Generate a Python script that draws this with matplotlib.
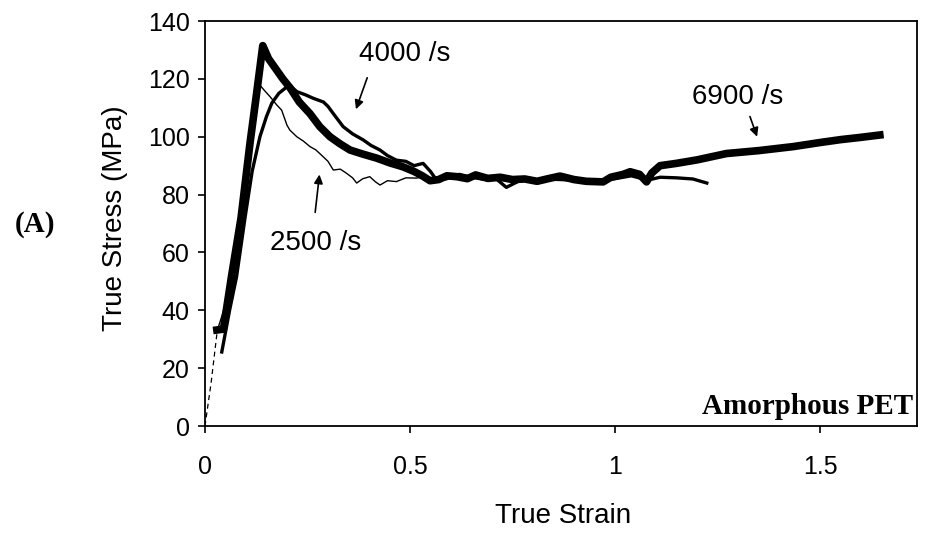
import matplotlib
matplotlib.use("Agg")
import matplotlib.pyplot as plt

# ---- data ----
strain_init = [0.0, 0.015, 0.03]
stress_init = [0.0, 15.0, 33.0]

strain_6900 = [0.029, 0.045, 0.065, 0.088, 0.11, 0.125, 0.141, 0.155, 0.175, 0.19, 0.207,
               0.23, 0.256, 0.28, 0.305, 0.33, 0.354, 0.385, 0.419, 0.45, 0.483, 0.51,
               0.53, 0.549, 0.57, 0.59, 0.614, 0.64, 0.66, 0.69, 0.72, 0.75, 0.78, 0.81,
               0.84, 0.866, 0.9, 0.93, 0.971, 0.99, 1.02, 1.037, 1.06, 1.077, 1.09, 1.11,
               1.15, 1.2, 1.272, 1.35, 1.435, 1.5, 1.55, 1.6, 1.646]
stress_6900 = [33.2, 33.5, 52.0, 72.0, 98.0, 114.0, 131.5, 127.0, 123.0, 120.0, 117.0,
               112.0, 108.0, 103.5, 100.0, 97.5, 95.4, 94.0, 92.6, 91.0, 89.6, 88.0,
               86.5, 84.8, 85.2, 86.5, 86.2, 85.5, 86.8, 85.6, 86.0, 85.2, 85.4, 84.6,
               85.6, 86.4, 85.2, 84.6, 84.4, 86.0, 87.0, 87.9, 87.0, 84.4, 87.5, 90.0,
               90.8, 92.0, 94.2, 95.2, 96.6, 98.0, 99.0, 99.8, 100.6]

strain_4000 = [0.041, 0.06, 0.077, 0.098, 0.115, 0.134, 0.15, 0.163, 0.18, 0.195, 0.205,
               0.224, 0.245, 0.264, 0.289, 0.3, 0.313, 0.337, 0.36, 0.386, 0.405, 0.427,
               0.445, 0.467, 0.49, 0.51, 0.532, 0.55, 0.565, 0.59, 0.62, 0.65, 0.68, 0.71,
               0.735, 0.77, 0.8, 0.85, 0.9, 0.95, 1.0, 1.04, 1.08, 1.11, 1.15, 1.19, 1.224]
stress_4000 = [25.6, 40.0, 51.6, 72.3, 88.0, 100.0, 107.0, 111.6, 115.0, 116.7, 118.0,
               115.6, 114.5, 113.3, 112.0, 110.5, 108.0, 103.5, 101.0, 98.9, 97.0, 95.4,
               93.5, 91.9, 91.5, 90.0, 90.8, 88.0, 85.0, 85.5, 87.0, 86.0, 85.3, 85.5,
               82.5, 85.0, 84.8, 85.3, 85.0, 84.3, 85.5, 86.5, 85.0, 86.0, 85.8, 85.4, 84.0]

strain_2500 = [0.03, 0.05, 0.07, 0.09, 0.105, 0.118, 0.13, 0.145, 0.159, 0.175, 0.187,
               0.2, 0.207, 0.224, 0.24, 0.256, 0.27, 0.289, 0.3, 0.313, 0.33, 0.345,
               0.36, 0.37, 0.385, 0.402, 0.415, 0.427, 0.445, 0.467, 0.49, 0.516, 0.532]
stress_2500 = [33.0, 42.0, 60.0, 80.0, 96.0, 110.0, 118.5, 116.0, 113.8, 111.0, 109.2,
               104.0, 102.3, 100.0, 98.5, 96.6, 95.5, 93.0, 91.5, 88.5, 88.8, 87.4,
               85.8, 84.0, 85.5, 86.2, 84.5, 83.3, 84.8, 84.5, 85.8, 85.7, 86.2]

x_ticks = [0, 0.5, 1, 1.5]
x_tick_labels = ["0", "0.5", "1", "1.5"]
y_ticks = [0, 20, 40, 60, 80, 100, 120, 140]

fig = plt.figure(figsize=(9.25, 5.34), dpi=100)
ax = fig.add_axes([0.2216, 0.2022, 0.7697, 0.7584])

ax.plot(strain_init, stress_init, color="black", lw=0.9, ls=(0, (4, 3)))
ax.plot(strain_2500, stress_2500, color="black", lw=1.0)
ax.plot(strain_4000, stress_4000, color="black", lw=2.4)
ax.plot(strain_6900, stress_6900, color="black", lw=5.5, solid_joinstyle="round")

ax.set_xlim(0, 1.7366)
ax.set_ylim(0, 140)
ax.set_xticks(x_ticks)
ax.set_xticklabels(x_tick_labels)
ax.set_yticks(y_ticks)
for s in ax.spines.values():
    s.set_linewidth(1.3)
ax.tick_params(axis="both", direction="out", length=5, width=1.2, labelsize=18)
ax.tick_params(axis="x", pad=16)
ax.tick_params(axis="y", pad=6)
for lab in ax.get_xticklabels() + ax.get_yticklabels():
    lab.set_fontfamily("Liberation Sans")

arrow = dict(arrowstyle="-|>", color="black", lw=1.2, mutation_scale=13)
ax.annotate("", xy=(0.366, 108.6), xytext=(0.398, 121.3), arrowprops=arrow)
ax.annotate("", xy=(0.28, 87.9), xytext=(0.268, 72.9), arrowprops=arrow)
ax.annotate("", xy=(1.349, 99.1), xytext=(1.327, 107.9), arrowprops=arrow)

tkw = dict(fontsize=20, family="Liberation Sans", ha="center", va="center")
ax.text(0.488, 128.6, "4000 /s", **tkw)
ax.text(0.270, 63.1, "2500 /s", **tkw)
ax.text(1.298, 113.8, "6900 /s", **tkw)

ax.text(1.727, 6.6, "Amorphous PET", fontsize=21, family="Liberation Serif",
        fontweight="bold", ha="right", va="center")

fig.text(0.124, 0.592, "True Stress (MPa)", rotation=90, fontsize=20,
         family="Liberation Sans", ha="center", va="center")
fig.text(0.609, 0.034, "True Strain", fontsize=20, family="Liberation Sans",
         ha="center", va="center")
fig.text(0.038, 0.579, "(A)", fontsize=21, family="Liberation Serif",
         fontweight="bold", ha="center", va="center")

fig.savefig("out.png", dpi=100)
